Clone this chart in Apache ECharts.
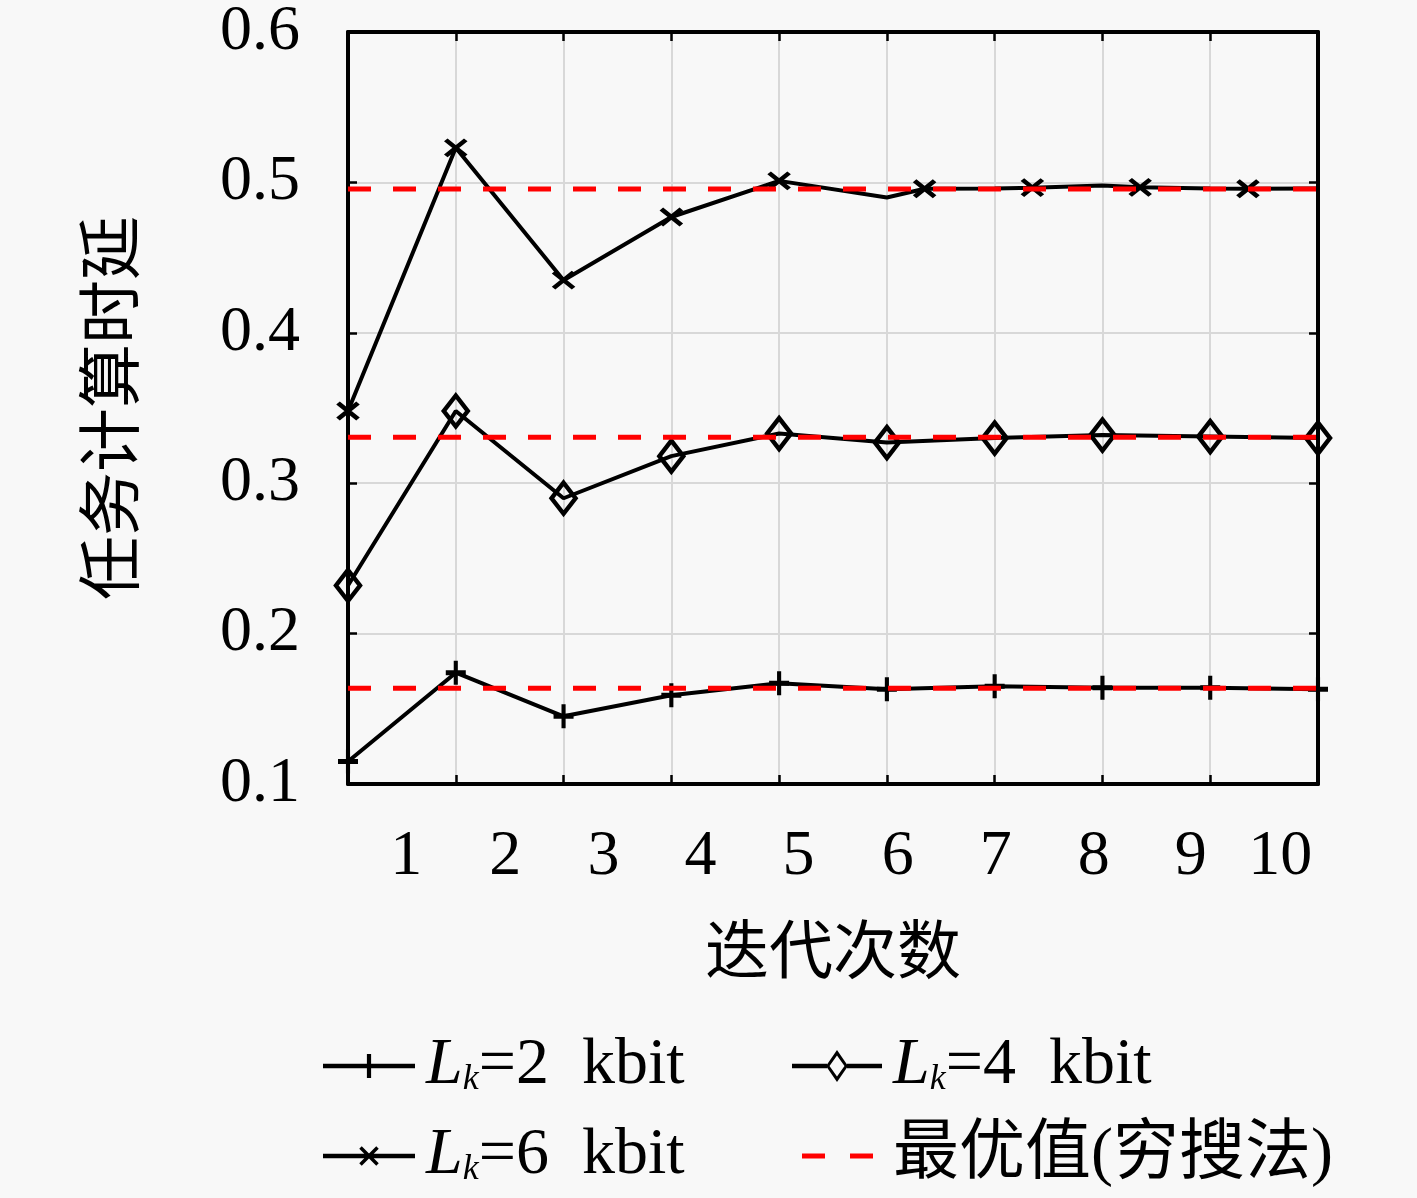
<!DOCTYPE html>
<html>
<head>
<meta charset="utf-8">
<title>任务计算时延</title>
<script src="https://cdn.jsdelivr.net/npm/echarts@6/dist/echarts.min.js"></script>
<style>
  html, body { margin: 0; padding: 0; background: #f8f8f8; }
  #chart { width: 1417px; height: 1198px; }
</style>
</head>
<body>
<div id="chart"></div>
<script>
// iteration index of each data point
const iterations = [1, 2, 3, 4, 5, 6, 7, 8, 9, 10]

// tick labels sit a little off the grid lines in the original figure
const xLabels = ['1', '2', '3', '4', '5', '6', '7', '8', '9', '10']
const xLabelPos = [1.54, 2.46, 3.37, 4.27, 5.18, 6.10, 7.01, 7.92, 8.82, 9.65]

// computation delay per iteration
const lk2 = [0.115, 0.174, 0.145, 0.159, 0.167, 0.163, 0.165, 0.164, 0.164, 0.163]
const lk4 = [0.232, 0.348, 0.290, 0.318, 0.333, 0.327, 0.330, 0.332, 0.331, 0.330]
const lk6 = [0.348, 0.523, 0.435, 0.477, 0.501, 0.490, 0.496, 0.498, 0.496, 0.496]

// the 6 kbit curve has its last markers drawn between the iterations
const lk6MarkX = [6.35, 7.35, 8.35, 9.35]
const lk6MarkY = [0.4958, 0.4965, 0.4967, 0.4958]

// exhaustive-search optimum for 2 / 4 / 6 kbit
const optimal = [0.1637, 0.3306, 0.4956]

const SERIF = "'Liberation Serif', 'DejaVu Serif', 'Noto Sans CJK SC', serif"
const FS = 64
const BG = '#f8f8f8'
const LW = 4

const PLUS = 'path://M0,-1L0,1M-1,0L1,0'
const CROSS = 'path://M-1,-1L1,1M-1,1L1,-1'

const NAME_2 = 'L_k=2 kbit'
const NAME_4 = 'L_k=4 kbit'
const NAME_6 = 'L_k=6 kbit'
const NAME_OPT = '最优值(穷搜法)'

const RED_DASH = { color: '#ff0000', width: 5, type: [23, 22] }

// legend icons drawn as filled outlines; the corner specks pin the box
// to itemWidth x itemHeight so nothing gets rescaled
function box(w) {
  return 'M0,0h0.01v0.01zM' + w + ',34h-0.01v-0.01z'
}
const ICON_PLUS = 'path://' + box(92) + 'M0,14.8H92V19.2H0ZM43.9,5H48.1V29H43.9Z'
const ICON_CROSS = 'path://' + box(92) + 'M0,14.8H92V19.2H0Z' +
  'M38.74,7.26L55.74,24.26L53.26,26.74L36.26,9.74Z' +
  'M38.74,26.74L36.26,24.26L53.26,7.26L55.74,9.74Z'
const ICON_DIAMOND = 'path://' + box(90) + 'M0,14.8H35V19.2H0ZM55,14.8H90V19.2H55Z' +
  'M45,1L56,17L45,33L34,17ZM45,6.5L37.5,17L45,27.5L52.5,17Z'
const ICON_DASH = 'path://' + box(90) + 'M10,14.5H33V19.5H10ZM58,14.5H81V19.5H58Z'

function pairs(ys) {
  return iterations.map((x, i) => [x, ys[i]])
}

function lk6Data() {
  const pts = iterations.map((x, i) => ({
    value: [x, lk6[i]],
    symbol: x <= 5 ? CROSS : 'none'
  }))
  lk6MarkX.forEach((x, i) => pts.push({ value: [x, lk6MarkY[i]] }))
  return pts.sort((a, b) => a.value[0] - b.value[0])
}

function legendName(name) {
  if (name.indexOf('L_k') === 0) {
    return '{i|L}{s|k}{n|' + name.slice(3).replace(' ', '\u2002') + '}'
  }
  return '{n|' + name + '}'
}

const legendText = {
  color: '#000',
  fontFamily: SERIF,
  fontSize: 66,
  padding: [0, 0, 0, 6],
  rich: {
    i: { fontFamily: SERIF, fontSize: 66, fontStyle: 'italic', lineHeight: 64 },
    s: { fontFamily: SERIF, fontSize: 36, fontStyle: 'italic', lineHeight: 24, verticalAlign: 'bottom' },
    n: { fontFamily: SERIF, fontSize: 66, lineHeight: 64 }
  }
}

function blackLine(name, data, symbol, size) {
  return {
    name,
    type: 'line',
    data,
    symbol,
    symbolSize: size,
    showAllSymbol: true,
    z: 2,
    lineStyle: { color: '#000', width: LW },
    itemStyle: { color: 'transparent', borderColor: '#000', borderWidth: 4.5 },
    emphasis: { disabled: true },
    animation: false
  }
}

const series = [
  blackLine(NAME_2, pairs(lk2), PLUS, [20, 24]),
  blackLine(NAME_4, pairs(lk4), 'diamond', [24, 31]),
  blackLine(NAME_6, lk6Data(), CROSS, [20, 16])
]

optimal.forEach(v => {
  series.push({
    name: NAME_OPT,
    type: 'line',
    data: [[1, v], [10, v]],
    symbol: 'none',
    z: 3,
    lineStyle: RED_DASH,
    itemStyle: { color: '#ff0000' },
    emphasis: { disabled: true },
    animation: false
  })
})

const tick = { show: true, inside: true, length: 9, lineStyle: { color: '#000', width: 2.5 } }
const frameLine = { show: true, onZero: false, lineStyle: { color: '#000', width: LW } }

const frameAxis = {
  axisLine: frameLine,
  axisTick: tick,
  axisLabel: { show: false },
  splitLine: { show: false }
}

const legendBase = {
  orient: 'vertical',
  top: 1033,
  padding: 0,
  itemWidth: 92,
  itemHeight: 34,
  itemGap: 24,
  symbolKeepAspect: true,
  formatter: legendName,
  textStyle: legendText
}

function legendItem(name, icon, color) {
  return { name, icon, itemStyle: { color, borderWidth: 0 } }
}

const chart = echarts.init(document.getElementById('chart'))

chart.setOption({
  backgroundColor: BG,
  animation: false,
  grid: { left: 348, right: 99, top: 31, bottom: 414, show: false },
  legend: [
    Object.assign({}, legendBase, {
      left: 323,
      data: [legendItem(NAME_2, ICON_PLUS, '#000'), legendItem(NAME_6, ICON_CROSS, '#000')]
    }),
    Object.assign({}, legendBase, {
      left: 792,
      itemWidth: 90,
      data: [legendItem(NAME_4, ICON_DIAMOND, '#000'), legendItem(NAME_OPT, ICON_DASH, '#ff0000')]
    })
  ],
  xAxis: [
    {
      type: 'value',
      min: 1, max: 10, interval: 1,
      position: 'bottom',
      name: '迭代次数',
      nameLocation: 'middle',
      nameGap: 140,
      nameTextStyle: { color: '#000', fontFamily: SERIF, fontSize: FS },
      axisLine: frameLine,
      axisTick: tick,
      axisLabel: { show: false },
      splitLine: { show: true, lineStyle: { color: '#d8d8d8', width: 2 } }
    },
    Object.assign({}, frameAxis, { type: 'value', min: 1, max: 10, interval: 1, position: 'top' }),
    {
      type: 'value',
      min: 1, max: 10,
      position: 'bottom',
      axisLine: { show: false },
      axisTick: { show: false },
      splitLine: { show: false },
      axisLabel: {
        show: true,
        customValues: xLabelPos,
        margin: 41,
        color: '#000',
        fontFamily: SERIF,
        fontSize: FS,
        formatter: v => {
          let best = 0
          xLabelPos.forEach((p, i) => {
            if (Math.abs(p - v) < Math.abs(xLabelPos[best] - v)) best = i
          })
          return xLabels[best]
        }
      }
    }
  ],
  yAxis: [
    {
      type: 'value',
      min: 0.1, max: 0.6, interval: 0.1,
      position: 'left',
      name: '任务计算时延',
      nameLocation: 'middle',
      nameGap: 200,
      nameRotate: 90,
      nameTextStyle: { color: '#000', fontFamily: SERIF, fontSize: FS },
      axisLine: frameLine,
      axisTick: tick,
      axisLabel: {
        margin: 48,
        color: '#000',
        fontFamily: SERIF,
        fontSize: FS,
        formatter: v => v.toFixed(1)
      },
      splitLine: { show: true, lineStyle: { color: '#d8d8d8', width: 2 } }
    },
    Object.assign({}, frameAxis, { type: 'value', min: 0.1, max: 0.6, interval: 0.1, position: 'right' })
  ],
  series
})
</script>
</body>
</html>
